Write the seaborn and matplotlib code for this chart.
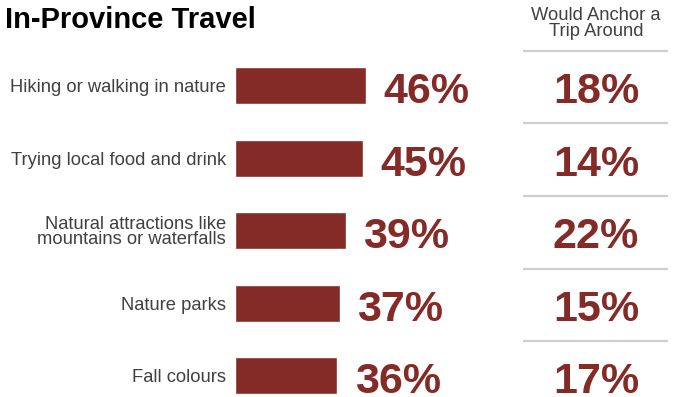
import matplotlib
matplotlib.use("Agg")
import matplotlib.pyplot as plt
import matplotlib.transforms as mtransforms
import seaborn as sns
import pandas as pd

# Activities and shares of respondents
activities = [
    "Hiking or walking in nature",
    "Trying local food and drink",
    "Natural attractions like\nmountains or waterfalls",
    "Nature parks",
    "Fall colours",
]
interest_pct = [46, 45, 39, 37, 36]
anchor_pct = [18, 14, 22, 15, 17]

title = "In-Province Travel"
anchor_header = "Would Anchor a\nTrip Around"

BAR_RED = "#842A27"
LABEL_GREY = "#404040"
RULE_GREY = "#CFCFCF"

sns.set_theme(style="white")
plt.rcParams["font.family"] = ["Liberation Sans", "DejaVu Sans"]

W, H = 677, 397
fig = plt.figure(figsize=(W / 100, H / 100), dpi=100)
fig.patch.set_facecolor("white")

df = pd.DataFrame({"activity": activities, "pct": interest_pct})

# Row geometry shared by both panels
y_top, y_bot = -0.503, 4.29
ax_bottom = 0.0
ax_height = (H - 49) / H
value_base = 0.24  # baseline of the big numbers, in row units below centre

# Bar panel
ax = fig.add_axes([235 / W, ax_bottom, (W - 235) / W, ax_height])
sns.barplot(data=df, y="activity", x="pct", orient="h", color=BAR_RED,
            saturation=1, width=0.51, ax=ax)
ax.set_xlim(0, (W - 235) / 2.84)
ax.set_ylim(y_bot, y_top)
ax.set_xlabel("")
ax.set_ylabel("")
ax.set_xticks([])
sns.despine(ax=ax, left=True, bottom=True)
ax.tick_params(axis="y", length=0, pad=6.5)
for lbl in ax.get_yticklabels():
    lbl.set_fontsize(13.2)
    lbl.set_color(LABEL_GREY)
    lbl.set_linespacing(0.85)

offset = mtransforms.offset_copy(ax.transData, fig=fig, x=12.5, y=0, units="points")
for i, v in enumerate(interest_pct):
    ax.text(v, i + value_base, f"{v}%", transform=offset, ha="left", va="baseline",
            fontsize=31, fontweight="bold", color=BAR_RED)

# Right-hand column
ax2 = fig.add_axes([523 / W, ax_bottom, 145 / W, ax_height])
ax2.set_xlim(0, 1)
ax2.set_ylim(y_bot, y_top)
ax2.axis("off")
ax2.hlines([i - 0.478 for i in range(len(anchor_pct))], 0, 1,
           color=RULE_GREY, linewidth=1.6)
for i, v in enumerate(anchor_pct):
    ax2.text(0.503, i + value_base, f"{v}%", ha="center", va="baseline",
             fontsize=31, fontweight="bold", color=BAR_RED)

fig.text(596 / W, 1 - 23.5 / H, anchor_header, ha="center", va="center",
         fontsize=13.2, color=LABEL_GREY, linespacing=0.92)
fig.text(5 / W, 1 - 28 / H, title, ha="left", va="baseline",
         fontsize=21, fontweight="bold", color="black")

fig.savefig("out.png", dpi=100)
